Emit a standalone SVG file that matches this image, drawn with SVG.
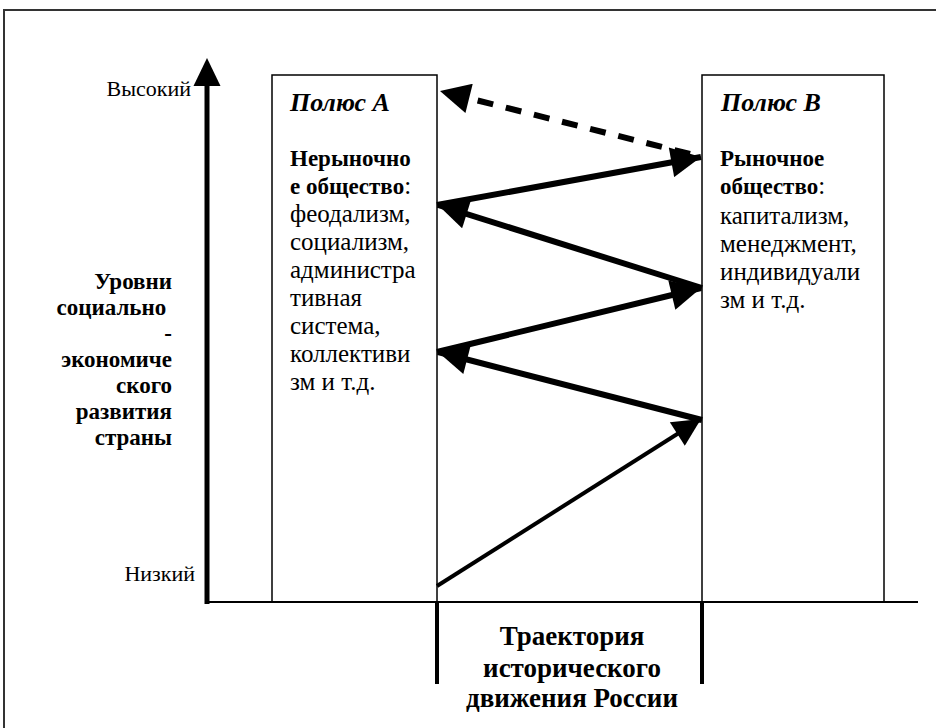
<svg xmlns="http://www.w3.org/2000/svg" width="936" height="728" viewBox="0 0 936 728">
<defs>
<style>
.t{font-family:"Liberation Serif","Times New Roman",serif;fill:#000}
.r{font-size:25px}
.b{font-size:23px;font-weight:bold}
.h{font-size:26px;font-weight:bold;font-style:italic}
.ax{font-size:22px}
.lb{font-size:23px;font-weight:bold}
.tr{font-size:27px;font-weight:bold}
.box{fill:none;stroke:#000;stroke-width:1.5}
.arr{stroke:#000;stroke-width:6;fill:none;marker-end:url(#ah)}
</style>
<marker id="ah" viewBox="0 0 10 10" refX="10" refY="5" markerWidth="5.4" markerHeight="5" markerUnits="strokeWidth" orient="auto">
<path d="M0,0 L10,5 L0,10 z" fill="#000"/>
</marker>
<marker id="ah2" viewBox="0 0 10 10" refX="10" refY="5" markerWidth="7.5" markerHeight="7" markerUnits="strokeWidth" orient="auto">
<path d="M0,0 L10,5 L0,10 z" fill="#000"/>
</marker>
</defs>
<rect width="936" height="728" fill="#fff"/>
<rect x="4" y="10" width="940" height="730" fill="none" stroke="#333" stroke-width="2"/>

<g id="axes">
<line x1="207" y1="604" x2="207" y2="84" stroke="#000" stroke-width="5"/>
<path d="M207,58 L220.5,86 L193.5,86 z" fill="#000"/>
<line x1="205" y1="602" x2="918" y2="602" stroke="#000" stroke-width="2"/>
<line x1="437" y1="602" x2="437" y2="684" stroke="#000" stroke-width="4"/>
<line x1="702" y1="602" x2="702" y2="684" stroke="#000" stroke-width="4"/>
<text class="t ax" x="191" y="96" text-anchor="end">Высокий</text>
<text class="t ax" x="195" y="581" text-anchor="end">Низкий</text>
<text class="t lb" text-anchor="end"><tspan x="172" y="289">Уровни</tspan><tspan x="172" y="315">социально </tspan><tspan x="172" y="341">-</tspan><tspan x="172" y="367">экономиче</tspan><tspan x="172" y="393">ского</tspan><tspan x="172" y="419">развития</tspan><tspan x="172" y="445">страны</tspan></text>
<text class="t tr" text-anchor="middle"><tspan x="572" y="645">Траектория</tspan><tspan x="572" y="677">исторического</tspan><tspan x="572" y="707">движения России</tspan></text>
</g>

<g id="poleA">
<rect class="box" x="272" y="75" width="165" height="527"/>
<text class="t h" x="290" y="111">Полюс А</text>
<text class="t b" x="290" y="166">Нерыночно</text>
<text class="t" x="290" y="194"><tspan class="b">е общество</tspan><tspan class="r">:</tspan></text>
<text class="t r"><tspan x="290" y="222">феодализм,</tspan><tspan x="290" y="250">социализм,</tspan><tspan x="290" y="278">администра</tspan><tspan x="290" y="306">тивная</tspan><tspan x="290" y="334">система,</tspan><tspan x="290" y="362">коллективи</tspan><tspan x="290" y="390">зм и т.д.</tspan></text>
</g>

<g id="poleB">
<rect class="box" x="702" y="75" width="182" height="527"/>
<text class="t h" x="721" y="111">Полюс В</text>
<text class="t b" x="720" y="166">Рыночное</text>
<text class="t" x="720" y="194"><tspan class="b">общество</tspan><tspan class="r">:</tspan></text>
<text class="t r"><tspan x="720" y="224">капитализм,</tspan><tspan x="720" y="252">менеджмент,</tspan><tspan x="720" y="280">индивидуали</tspan><tspan x="720" y="308">зм и т.д.</tspan></text>
</g>

<g id="connectors">
<line x1="437" y1="586" x2="701" y2="419" stroke="#000" stroke-width="4" marker-end="url(#ah2)"/>
<line class="arr" x1="702" y1="420" x2="438" y2="352"/>
<line class="arr" x1="437" y1="352" x2="701" y2="288"/>
<line class="arr" x1="702" y1="288" x2="438" y2="205"/>
<line class="arr" x1="437" y1="205" x2="701" y2="157"/>
<line class="arr" x1="690" y1="154" x2="440" y2="91" stroke-dasharray="16 13"/>
</g>
</svg>
